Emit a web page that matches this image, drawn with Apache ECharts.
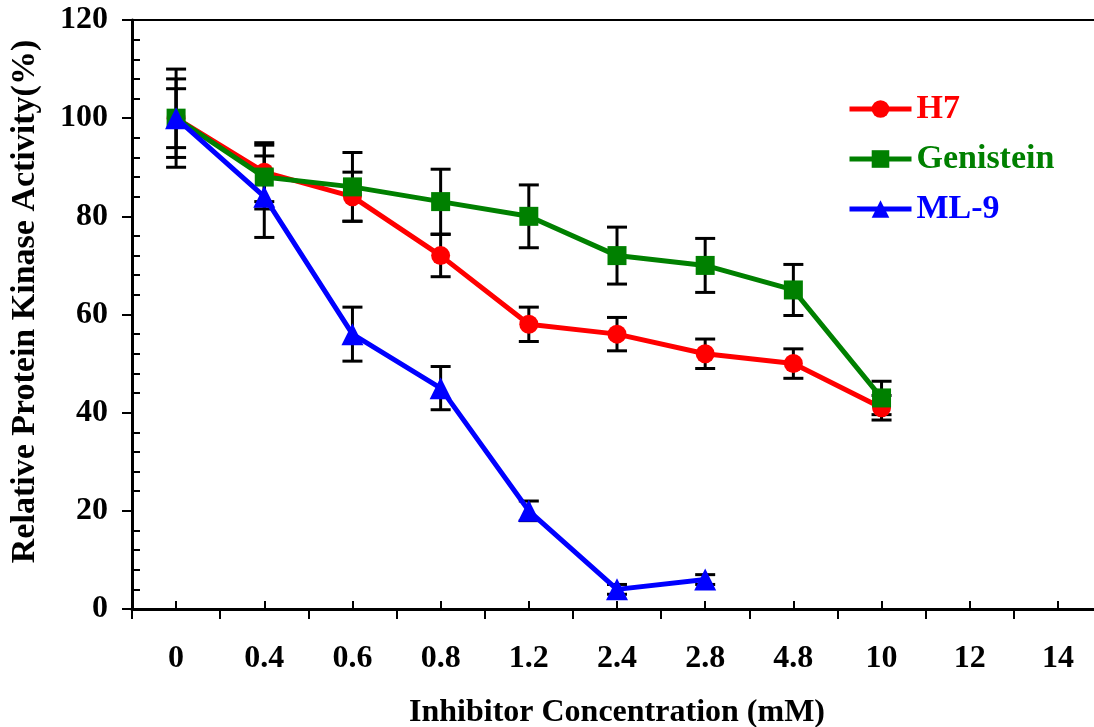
<!DOCTYPE html>
<html>
<head>
<meta charset="utf-8">
<script src="https://cdn.jsdelivr.net/npm/echarts@6/dist/echarts.min.js"></script>
<style>html,body{margin:0;padding:0;background:#fff;}#c{width:1094px;height:727px;}</style>
</head>
<body>
<div id="c"></div>
<script>
const categories = ['0', '0.4', '0.6', '0.8', '1.2', '2.4', '2.8', '4.8', '10', '12', '14'];
const h7 = [100, 89, 84, 72, 58, 56, 52, 50, 41];
const h7Err = [6, 6, 5, 4.3, 3.5, 3.4, 3, 3, 2.5];
const genistein = [100, 88, 86, 83, 80, 72, 70, 65, 43];
const genisteinErr = [8, 6.5, 7, 6.6, 6.4, 5.8, 5.5, 5.2, 3.4];
const ml9 = [100, 84, 56, 45, 20, 4, 6];
const ml9Err = [10, 8.3, 5.5, 4.4, 2, 1, 1];
const yTicks = [0, 20, 40, 60, 80, 100, 120];

const FONT = '"Liberation Serif", "Times New Roman", serif';
const RED = '#ff0000', GREEN = '#008000', BLUE = '#0000ff';

function errData(vals, errs) {
  return vals.map((v, i) => [i, v - errs[i], v + errs[i]]);
}
const allErr = [].concat(errData(h7, h7Err), errData(genistein, genisteinErr), errData(ml9, ml9Err));

function renderErr(params, api) {
  const x = api.value(0);
  const lo = api.coord([x, api.value(1)]);
  const hi = api.coord([x, api.value(2)]);
  const hw = 10;
  const st = { stroke: '#000', lineWidth: 3 };
  return {
    type: 'group',
    children: [
      { type: 'line', shape: { x1: lo[0], y1: lo[1], x2: hi[0], y2: hi[1] }, style: st },
      { type: 'line', shape: { x1: lo[0] - hw, y1: lo[1], x2: lo[0] + hw, y2: lo[1] }, style: st },
      { type: 'line', shape: { x1: hi[0] - hw, y1: hi[1], x2: hi[0] + hw, y2: hi[1] }, style: st }
    ]
  };
}

const chart = echarts.init(document.getElementById('c'));
chart.setOption({
  animation: false,
  backgroundColor: '#fff',
  grid: { left: 132, top: 20, width: 970, height: 589, show: true, borderColor: '#000', borderWidth: 2,
          containLabel: false, outerBoundsMode: 'none' },
  legend: {
    orient: 'vertical', left: 842, top: 87, itemWidth: 62, itemHeight: 22, itemGap: 16,
    textStyle: { fontFamily: FONT, fontWeight: 'bold', fontSize: 34 },
    lineStyle: { width: 5 },
    data: [
      { name: 'H7', textStyle: { color: RED } },
      { name: 'Genistein', textStyle: { color: GREEN } },
      { name: 'ML-9', textStyle: { color: BLUE } }
    ]
  },
  xAxis: [
    {
      type: 'category', data: categories, boundaryGap: true, position: 'bottom',
      axisLine: { lineStyle: { color: '#000', width: 3 } },
      axisTick: { show: true, inside: false, length: 10, alignWithLabel: false, lineStyle: { color: '#000', width: 2 } },
      axisLabel: { color: '#000', fontFamily: FONT, fontWeight: 'bold', fontSize: 32, margin: 34 },
      name: 'Inhibitor Concentration (mM)', nameLocation: 'middle', nameGap: 88,
      nameTextStyle: { color: '#000', fontFamily: FONT, fontWeight: 'bold', fontSize: 32 }
    },
    {
      type: 'category', data: categories, boundaryGap: true, position: 'bottom',
      axisLine: { show: false },
      axisTick: { show: true, inside: true, length: 8, alignWithLabel: true, lineStyle: { color: '#000', width: 2 } },
      axisLabel: { show: false }
    }
  ],
  yAxis: [
    {
      type: 'value', min: yTicks[0], max: yTicks[yTicks.length - 1], interval: 20,
      axisLine: { show: true, lineStyle: { color: '#000', width: 3 } },
      axisTick: { show: true, inside: false, length: 10, lineStyle: { color: '#000', width: 2 } },
      splitLine: { show: false },
      axisLabel: { color: '#000', fontFamily: FONT, fontWeight: 'bold', fontSize: 32, margin: 24 },
      name: 'Relative Protein Kinase Activity(%)', nameLocation: 'middle', nameGap: 90, nameRotate: 90,
      nameTextStyle: { color: '#000', fontFamily: FONT, fontWeight: 'bold', fontSize: 34, padding: [0, 0, 0, 26] }
    },
    {
      type: 'value', min: yTicks[0], max: yTicks[yTicks.length - 1], interval: 20, position: 'left',
      axisLine: { show: false },
      axisTick: { show: false, inside: true },
      minorTick: { show: true, splitNumber: 5, length: 8, lineStyle: { color: '#000', width: 2 } },
      splitLine: { show: false }, minorSplitLine: { show: false },
      axisLabel: { show: false }
    }
  ],
  series: [
    { type: 'custom', name: 'err', renderItem: renderErr, data: allErr, z: 1, silent: true,
      encode: { x: 0, y: [1, 2] } },
    { type: 'line', name: 'H7', data: h7, symbol: 'circle', symbolSize: 19, z: 3,
      itemStyle: { color: RED }, lineStyle: { color: RED, width: 5 } },
    { type: 'line', name: 'Genistein', data: genistein, symbol: 'rect', symbolSize: 19, z: 4,
      itemStyle: { color: GREEN }, lineStyle: { color: GREEN, width: 5 } },
    { type: 'line', name: 'ML-9', data: ml9, symbol: 'triangle', symbolSize: 22, z: 5,
      itemStyle: { color: BLUE }, lineStyle: { color: BLUE, width: 5 } }
  ]
});
</script>
</body>
</html>
